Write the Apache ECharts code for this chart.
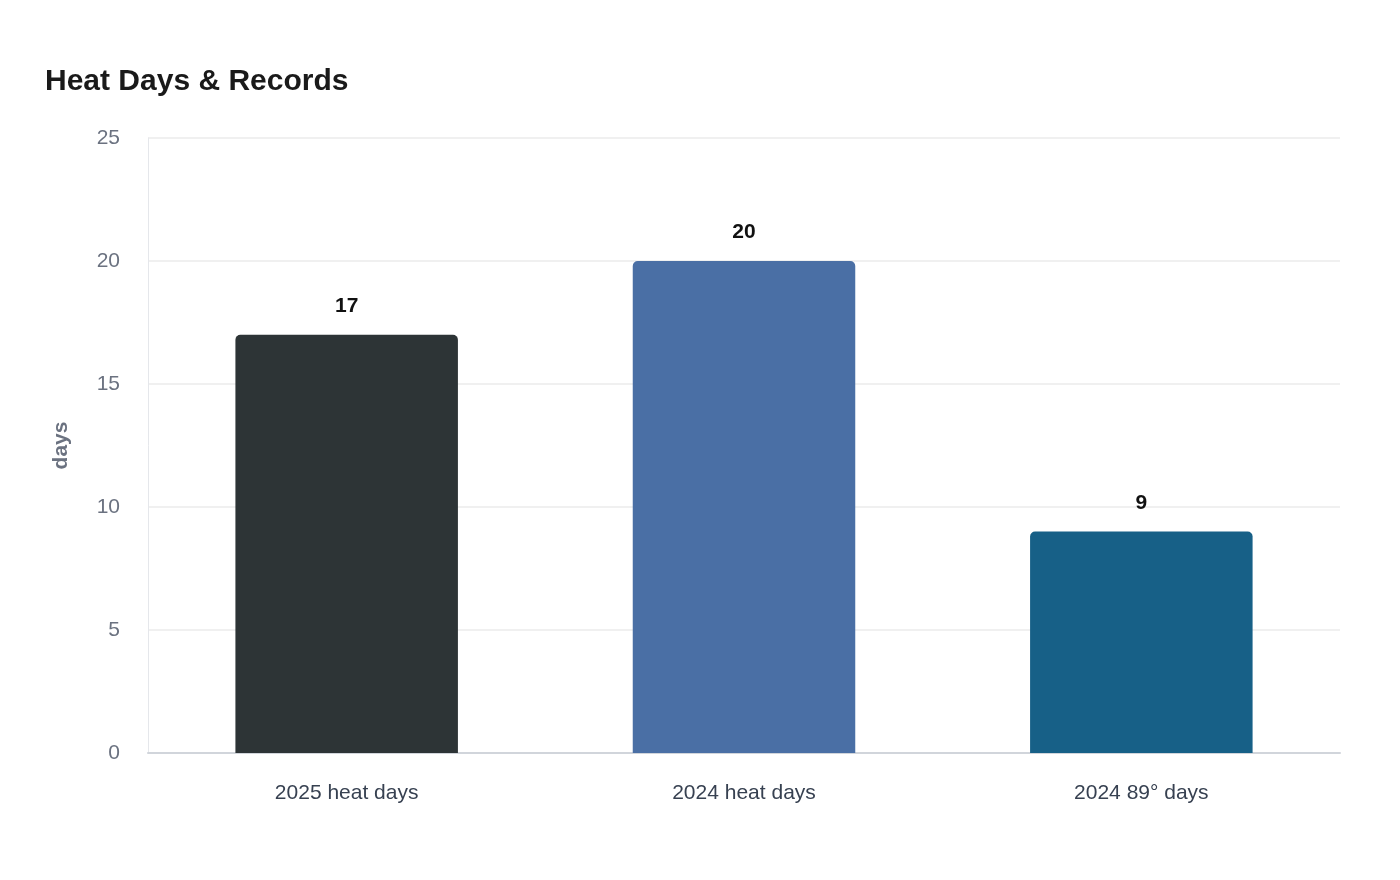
<!DOCTYPE html>
<html><head><meta charset="utf-8">
<script src="https://cdn.jsdelivr.net/npm/echarts@6/dist/echarts.min.js"></script>
<style>html,body{margin:0;padding:0;background:#fff}#c{width:1400px;height:880px}</style>
</head><body><div id="c"></div>
<script>
const categories = ['2025 heat days', '2024 heat days', '2024 89° days'];
const values = [17, 20, 9];
const colors = ['#2d3436', '#4a6fa5', '#176087'];
const chart = echarts.init(document.getElementById('c'));
chart.setOption({
  animation: false,
  title: { text: 'Heat Days & Records', left: 40, top: 62, textStyle: { fontFamily: 'Liberation Sans', fontSize: 30, fontWeight: 'bold', color: '#1a1a1a' } },
  grid: { left: 148, right: 60, top: 138, bottom: 127 },
  xAxis: {
    type: 'category', data: categories,
    axisLine: { lineStyle: { color: '#d1d5db', width: 2 } },
    axisTick: { show: false },
    axisLabel: { fontFamily: 'Liberation Sans', fontSize: 21, color: '#374151', margin: 30 }
  },
  yAxis: {
    type: 'value', min: 0, max: 25, interval: 5,
    name: 'days', nameLocation: 'middle', nameGap: 76, nameRotate: 90,
    nameTextStyle: { fontFamily: 'Liberation Sans', fontSize: 21, fontWeight: 'bold', color: '#6b7280' },
    axisLine: { show: true, lineStyle: { color: '#e5e7eb' } },
    axisLabel: { fontFamily: 'Liberation Sans', fontSize: 21, color: '#6b7280', margin: 28 },
    splitLine: { lineStyle: { color: '#ebebeb', width: 1.5 } }
  },
  series: [{
    type: 'bar', barWidth: '56%',
    data: values.map((v, i) => ({ value: v, itemStyle: { color: colors[i] } })),
    itemStyle: { borderRadius: [5, 5, 0, 0] },
    label: { show: true, position: 'top', distance: 18, fontFamily: 'Liberation Sans', fontSize: 21, fontWeight: 'bold', color: '#111' }
  }]
});
</script></body></html>
